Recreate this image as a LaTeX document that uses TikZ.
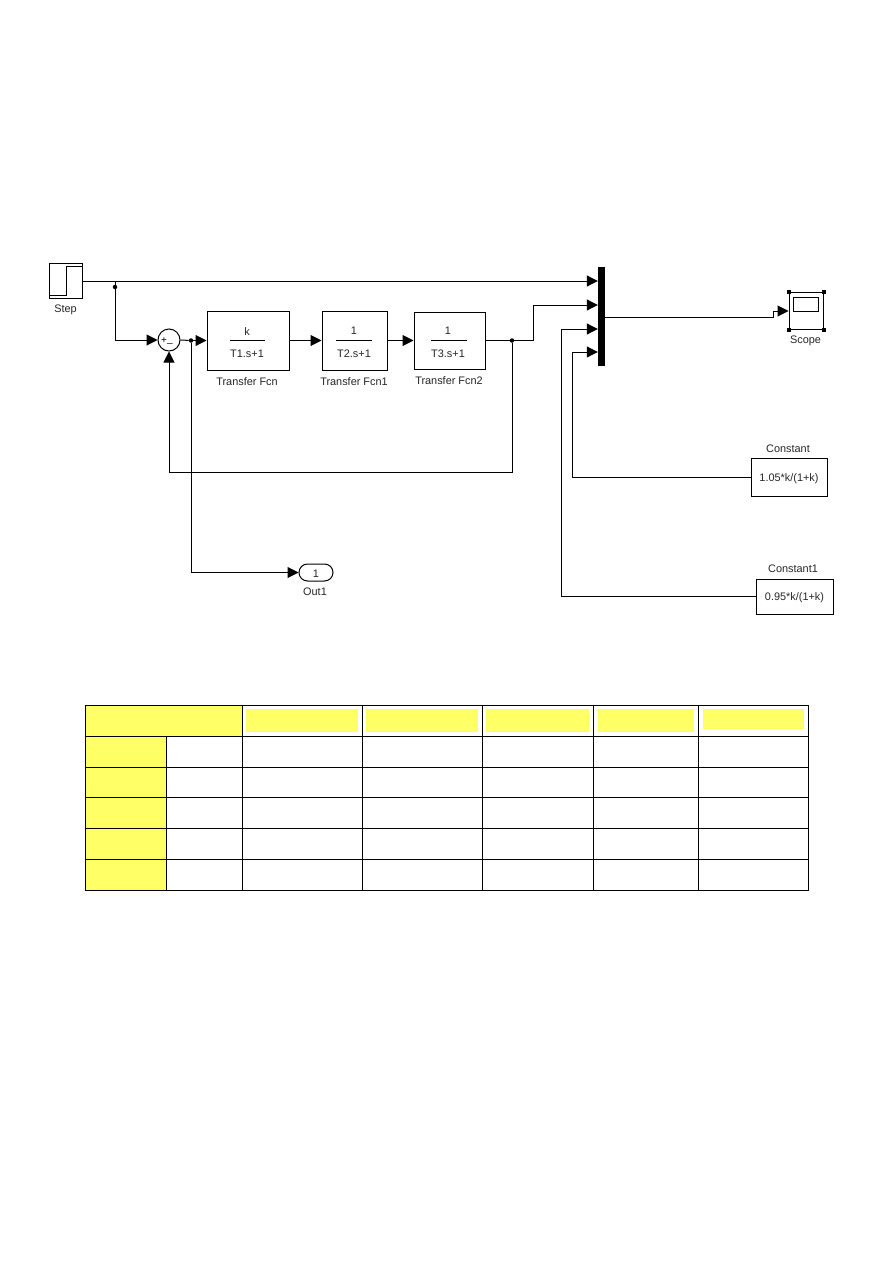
\documentclass[tikz,border=0pt]{standalone}
\usepackage{fontspec}
\setmainfont{Liberation Sans}
\usetikzlibrary{arrows.meta,shapes.misc}
\definecolor{cellyellow}{HTML}{FFFF66}
\tikzset{
	block/.style={draw,line width=1pt,inner sep=0pt},
	blockname/.style={font=\fontsize{10.9}{12}\selectfont,text=black!85,inner sep=0pt,yshift=-1.2pt},
	gain/.style={font=\fontsize{10.9}{12}\selectfont,text=black!85,inner sep=0pt,yshift=-1.2pt},
	handle/.style={fill=black,inner sep=0pt,minimum size=4pt},
	wire/.style={line width=1pt,-{Triangle[length=11pt,width=11pt]}},
	plainwire/.style={line width=1pt},
	jdot/.style={circle,fill=black,inner sep=0pt,minimum size=4.5pt}
}
\begin{document}
\begin{tikzpicture}[x=1pt,y=-1pt,line join=miter]
	\useasboundingbox (0,0) rectangle (893,1263);
	% blocks
	\node[block,minimum width=33pt,minimum height=35pt] (step) at (66,281) {};
	\draw[plainwire] (49.5,295) -- (66,295) -- (66,266) -- (82,266);
	\node[blockname] (stepname) at (65.5,309) {Step};
	\node[block,circle,minimum size=22pt] (sum) at (169,340) {};
	\node[font=\fontsize{10}{10}\selectfont] (plus) at (164,340.5) {+};
	\node[font=\fontsize{10}{10}\selectfont] (minus) at (170,343) {\_};
	\node[block,minimum width=82pt,minimum height=59pt] (fcn) at (248,340.5) {};
	\node[block,minimum width=65pt,minimum height=59pt] (fcna) at (354.5,340.5) {};
	\node[block,minimum width=71pt,minimum height=57pt] (fcnb) at (449.5,340.5) {};
	\node[gain] (fcnnum) at (247,330) {k};
	\node[gain] (fcnden) at (247,353) {T1.s+1};
	\draw[plainwire] (230,340.5) -- (265,340.5);
	\node[gain] (fcnanum) at (354,330) {1};
	\node[gain] (fcnaden) at (354,353) {T2.s+1};
	\draw[plainwire] (336,340.5) -- (372,340.5);
	\node[gain] (fcnbnum) at (448,330) {1};
	\node[gain] (fcnbden) at (448,353) {T3.s+1};
	\draw[plainwire] (431,340.5) -- (467,340.5);
	\node[blockname] (fcnname) at (247,380) {Transfer Fcn};
	\node[blockname] (fcnaname) at (354,380) {Transfer Fcn1};
	\node[blockname] (fcnbname) at (449,379) {Transfer Fcn2};
	\node[fill=black,minimum width=7pt,minimum height=99pt,inner sep=0pt] (mux) at (601.5,316.5) {};
	\node[block,minimum width=34pt,minimum height=37pt] (scope) at (806,310.5) {};
	\draw[line width=1pt] (793,297) rectangle (818,311);
	\foreach \c in {north west,north east,south west,south east}
		\node[handle] at (scope.\c) {};
	\node[blockname] (scopename) at (805.5,340) {Scope};
	\node[block,minimum width=76pt,minimum height=38pt] (const) at (789,477) {};
	\node[gain] at (const) {1.05*k/(1+k)};
	\node[blockname] (constname) at (788,448) {Constant};
	\node[block,minimum width=77pt,minimum height=35pt] (consta) at (794.5,596.5) {};
	\node[gain] at (consta) {0.95*k/(1+k)};
	\node[blockname] (constaname) at (793,568) {Constant1};
	\node[block,rounded rectangle,minimum width=34pt,minimum height=17pt] (out) at (316,572.5) {};
	\node[gain] at (out) {1};
	\node[blockname] (outname) at (315,591) {Out1};
	% junctions
	\node[jdot] (jstep) at (115,287) {};
	\node[jdot] (jsum) at (191,340.5) {};
	\node[jdot] (jout) at (512,340.5) {};
	% wires
	\draw[wire] (step.east|-0,281) -- (mux.west|-0,281);
	\draw[plainwire] (115,281) -- (jstep);
	\draw[wire] (jstep) |- (sum.west);
	\draw[plainwire] (sum.east) -- (jsum);
	\draw[wire] (jsum) -- (fcn.west);
	\draw[wire] (fcn.east|-0,340.5) -- (fcna.west|-0,340.5);
	\draw[wire] (fcna.east|-0,340.5) -- (fcnb.west|-0,340.5);
	\draw[plainwire] (fcnb.east|-0,340.5) -- (jout);
	\draw[wire] (jout) -- (533,340.5) -- (533,305) -- (mux.west|-0,305);
	\draw[wire] (const.west) -- (572,477) -- (572,352) -- (mux.west|-0,352);
	\draw[wire] (consta.west|-0,596.5) -- (561,596.5) -- (561,329) -- (mux.west|-0,329);
	\draw[wire] (jout) -- (512,472) -- (169,472) -- (sum.south);
	\draw[wire] (jsum) |- (out.west);
	\draw[wire] (mux.east|-0,317) -- (773,317) -- (773,311) -- (scope.west|-0,311);
	% table
	\fill[cellyellow] (85.5,705) rectangle (242.5,736.5);
	\fill[cellyellow] (85.5,736.5) rectangle (166.5,890.5);
	\foreach \xa/\xb/\yb in {246/358/732,366/478/732,486/589/732,598/694/732,703/804/729}
		\fill[cellyellow] (\xa,709) rectangle (\xb,\yb);
	\draw[line width=1pt] (85.5,705.5) rectangle (808.5,890.5);
	\foreach \y in {736.5,767.5,797.5,828.5,859.5}
		\draw[line width=1pt] (85.5,\y) -- (808.5,\y);
	\draw[line width=1pt] (166.5,736.5) -- (166.5,890.5);
	\foreach \x in {242.5,362.5,482.5,593.5,698.5}
		\draw[line width=1pt] (\x,705.5) -- (\x,890.5);
\end{tikzpicture}
\end{document}
